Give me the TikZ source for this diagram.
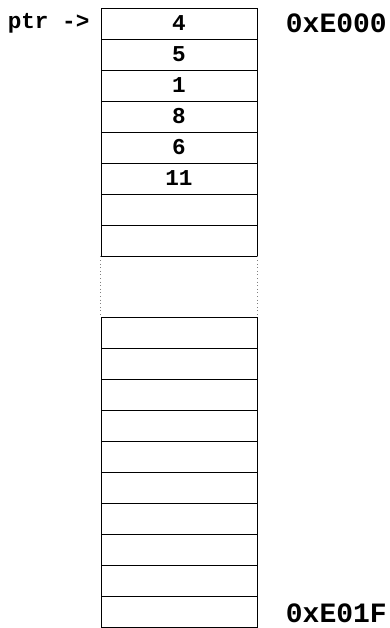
\documentclass[tikz,border=0pt]{standalone}
\usepackage{fontspec}
\setmonofont{Liberation Mono}
\usetikzlibrary{positioning}

\begin{document}
\begin{tikzpicture}[x=0.75pt, y=-0.75pt, line width=0.7pt,
    cell/.style={rectangle, draw, minimum width=117pt, minimum height=23.25pt, inner sep=0pt,
      font=\ttfamily\bfseries\fontsize{17}{17}\selectfont},
    addr/.style={inner sep=0pt, font=\ttfamily\bfseries\fontsize{21}{21}\selectfont}]
  \useasboundingbox (0,0) rectangle (389,628);
  % ---- upper cells
  \foreach \v [count=\i from 0] in {4,5,1,8,6,11,{},{}}
    \node[cell] (m\i) at (179,23.5+31*\i) {\v};
  % ---- lower cells
  \foreach \i in {0,...,9}
    \node[cell] (n\i) at (179,332.5+31*\i) {};
  \draw[dotted, gray] (m7.south west) -- (n0.north west);
  \draw[dotted, gray] (m7.south east) -- (n0.north east);
  % ---- labels
  \node[inner sep=0pt, font=\ttfamily\bfseries\fontsize{17}{17}\selectfont, left=8pt of m0] (ptr) {ptr ->};
  \node[addr, right=21pt of m0] (first) {0xE000};
  \node[addr, right=21pt of n9, yshift=-1.5pt] (last) {0xE01F};
\end{tikzpicture}
\end{document}
